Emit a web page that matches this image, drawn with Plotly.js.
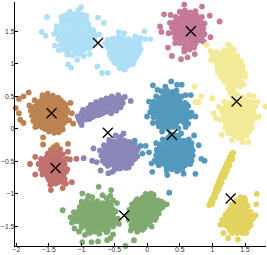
<!DOCTYPE html>
<html><head><meta charset="utf-8">
<script src="https://cdn.plot.ly/plotly-3.0.1.min.js"></script>
<style>html,body{margin:0;padding:0;background:#fff}</style></head>
<body><div id="c" style="width:267px;height:255px"></div>
<script>
const skyX=[-1.53,-1.61,-1.55,-1.31,-1.01,-1.18,-1.05,-0.93,-0.75,-0.66,-1.21,-1.07,-0.88,-1.41,-1.35,-0.73,-0.76,-0.69,-0.6,
-1.2,-1.12,-1.05,-0.98,
-1.25,-1.17,-1.09,-1.01,-0.93,
-1.3,-1.22,-1.14,-1.06,-0.98,-0.9,
-1.38,-1.3,-1.22,-1.14,-1.06,-0.98,-0.9,-0.83,
-1.42,-1.34,-1.26,-1.18,-1.1,-1.02,-0.94,-0.86,-0.79,
-1.36,-1.28,-1.2,-1.12,-1.04,-0.96,-0.88,-0.8,
-1.32,-1.24,-1.16,-1.08,-1.0,-0.92,-0.84,
-1.28,-1.2,-1.12,-1.04,-0.96,-0.88,
-1.22,-1.14,-1.05,-0.97,
-0.43,-0.35,-0.04,
-0.52,-0.44,-0.36,-0.28,-0.18,-0.1,-0.03,0.05,
-0.6,-0.52,-0.44,-0.36,-0.28,-0.2,-0.12,
-0.64,-0.56,-0.48,-0.4,-0.32,-0.24,-0.16,-0.1,
-0.6,-0.52,-0.44,-0.36,-0.28,-0.2,-0.13,
-0.57,-0.49,-0.41,-0.33,-0.25,-0.17,
-0.54,-0.46,-0.38,-0.3,-0.22,
-0.5,-0.42,-0.34,
-1.16,-1.08,-1.0,
-1.26,-1.18,-1.1,-1.02,-0.94,
-1.3,-1.22,-1.14,-1.06,-0.98,-0.9,
-1.38,-1.3,-1.22,-1.14,-1.06,-0.98,-0.9,-0.82,
-1.38,-1.3,-1.22,-1.14,-1.06,-0.98,-0.9,-0.82,
-1.32,-1.24,-1.16,-1.08,-1.0,-0.92,-0.84,
-1.28,-1.2,-1.12,-1.04,-0.96,-0.88,
-1.18,-1.1,-1.02,
-0.56,-0.48,-0.4,-0.32,-0.24,-0.16,
-0.6,-0.52,-0.44,-0.36,-0.28,-0.2,-0.12,
-0.6,-0.52,-0.44,-0.36,-0.28,-0.2,-0.12,
-0.56,-0.48,-0.4,-0.32,-0.24,-0.16,
-0.52,-0.44,-0.36,-0.28,-0.2,
-0.46,-0.38,-0.3];
const skyY=[1.72,1.49,1.43,1.72,1.87,1.8,1.82,1.74,1.71,1.63,0.99,1.06,1.15,1.28,1.21,1.45,0.96,0.86,0.86,
1.78,1.76,1.79,1.75,
1.69,1.71,1.68,1.7,1.67,
1.61,1.63,1.6,1.62,1.64,1.61,
1.53,1.55,1.52,1.56,1.54,1.53,1.55,1.52,
1.46,1.45,1.47,1.44,1.46,1.48,1.45,1.47,1.44,
1.38,1.37,1.39,1.36,1.38,1.4,1.37,1.36,
1.3,1.29,1.31,1.28,1.32,1.3,1.29,
1.22,1.21,1.23,1.2,1.22,1.24,
1.14,1.13,1.15,1.12,
1.49,1.47,1.5,
1.39,1.41,1.4,1.38,1.42,1.4,1.38,1.38,1.37,
1.31,1.33,1.3,1.32,1.31,1.34,1.31,
1.24,1.22,1.25,1.23,1.26,1.24,1.22,1.25,
1.16,1.14,1.17,1.15,1.18,1.16,1.14,
1.08,1.06,1.09,1.07,1.1,1.08,
1.0,0.98,1.01,0.99,1.02,
0.93,0.91,0.94,
1.74,1.74,1.74,
1.66,1.66,1.66,1.66,1.66,
1.58,1.58,1.58,1.58,1.58,1.58,
1.5,1.5,1.5,1.5,1.5,1.5,1.5,1.5,
1.42,1.42,1.42,1.42,1.42,1.42,1.42,1.42,
1.34,1.34,1.34,1.34,1.34,1.34,1.34,
1.26,1.26,1.26,1.26,1.26,1.26,
1.18,1.18,1.18,
1.36,1.36,1.36,1.36,1.36,1.36,
1.28,1.28,1.28,1.28,1.28,1.28,1.28,
1.2,1.2,1.2,1.2,1.2,1.2,1.2,
1.12,1.12,1.12,1.12,1.12,1.12,
1.04,1.04,1.04,1.04,1.04,
0.96,0.96,0.96];
const pinkX=[0.65,0.57,0.84,0.26,0.36,0.96,1.11,0.2,0.22,0.32,0.38,0.52,0.62,0.73,0.57,0.87,0.97,0.43,0.35,0.33,
0.5,0.58,0.66,0.74,
0.44,0.52,0.6,0.68,0.76,0.84,
0.42,0.5,0.58,0.66,0.74,0.82,0.88,
0.38,0.46,0.54,0.62,0.7,0.78,0.86,
0.4,0.48,0.56,0.64,0.72,0.8,0.88,
0.43,0.51,0.59,0.67,0.75,0.83,
0.5,0.58,0.66,0.74,
0.57,0.65,0.72,
0.54,0.62,0.7,
0.48,0.56,0.64,0.72,0.8,
0.44,0.52,0.6,0.68,0.76,0.84,
0.42,0.5,0.58,0.66,0.74,0.82,
0.46,0.54,0.62,0.7,0.78,0.86,
0.5,0.58,0.66,0.74,0.8,
0.58,0.66];
const pinkY=[1.96,1.91,1.88,1.76,1.75,1.74,1.65,1.575,1.49,1.25,1.12,1.07,1.1,1.15,1.19,1.34,1.41,1.32,1.63,1.47,
1.8,1.82,1.79,1.81,
1.72,1.7,1.73,1.71,1.74,1.72,
1.64,1.62,1.65,1.63,1.66,1.64,1.62,
1.56,1.54,1.57,1.55,1.58,1.56,1.54,
1.48,1.46,1.49,1.47,1.5,1.48,1.46,
1.4,1.38,1.41,1.39,1.42,1.4,
1.32,1.3,1.33,1.31,
1.24,1.22,1.25,
1.76,1.76,1.76,
1.68,1.68,1.68,1.68,1.68,
1.6,1.6,1.6,1.6,1.6,1.6,
1.52,1.52,1.52,1.52,1.52,1.52,
1.44,1.44,1.44,1.44,1.44,1.44,
1.36,1.36,1.36,1.36,1.36,
1.28,1.28];
const paleX=[0.73,0.83,0.79,0.74,1.0,1.81,1.0,1.02,1.06,1.12,1.14,1.28,1.3,1.46,1.55,1.71,1.56,1.63,1.69,
0.91,1.24,1.27,
0.97,1.06,1.18,1.26,1.33,
1.0,1.08,1.16,1.24,1.32,1.38,
0.98,1.06,1.14,1.22,1.3,1.38,1.44,
1.07,1.15,1.23,1.31,1.39,1.46,
1.08,1.16,1.24,1.32,1.4,1.47,1.5,
1.13,1.21,1.29,1.37,1.45,1.5,
1.2,1.28,1.36,1.45,
1.24,1.32,1.42,1.48,
1.27,1.35,
1.3,1.38,1.46,
1.18,1.26,1.34,1.42,1.5,1.58,1.65,
1.1,1.18,1.26,1.34,1.42,1.5,1.58,1.66,
1.15,1.23,1.31,1.39,1.47,1.55,1.63,
1.17,1.25,1.33,1.41,1.49,1.57,1.65,
1.2,1.28,1.36,1.44,1.52,1.6,
1.2,1.28,1.36,1.44,1.52,1.6,
1.24,1.32,1.4,1.48,1.56,
1.4,1.47,
1.12,1.2,1.28,
1.04,1.12,1.2,1.28,1.36,
1.1,1.18,1.26,1.34,1.42,
1.11,1.19,1.27,1.35,1.43,
1.12,1.2,1.28,1.36,1.44,
1.17,1.25,1.33,1.41,
1.28,1.36,
1.22,1.3,1.38,1.46,1.54,1.62,
1.14,1.22,1.3,1.38,1.46,1.54,1.62,
1.19,1.27,1.35,1.43,1.51,1.59,
1.21,1.29,1.37,1.45,1.53,1.61,
1.24,1.32,1.4,1.48,1.56,
1.24,1.32,1.4,1.48,1.56,
1.36,1.44,1.52];
const paleY=[0.65,0.5,0.41,0.41,0.47,0.34,0.47,0.24,0.16,0.14,-0.09,-0.07,-0.17,-0.2,-0.2,0.19,0.52,0.5,0.42,
1.29,1.3,1.27,
1.2,1.18,1.21,1.19,1.22,
1.12,1.1,1.13,1.11,1.14,1.12,
1.06,1.04,1.02,1.05,1.03,1.06,1.04,
0.96,0.94,0.97,0.95,0.98,0.96,
0.88,0.86,0.89,0.87,0.9,0.88,0.86,
0.8,0.78,0.81,0.79,0.82,0.8,
0.72,0.7,0.73,0.71,
0.64,0.62,0.65,0.68,
0.56,0.54,
0.5,0.52,0.49,
0.42,0.4,0.43,0.41,0.44,0.42,0.4,
0.34,0.32,0.35,0.33,0.36,0.34,0.32,0.35,
0.26,0.24,0.27,0.25,0.28,0.26,0.24,
0.18,0.16,0.19,0.17,0.2,0.18,0.16,
0.1,0.08,0.11,0.09,0.12,0.1,
0.02,0.0,0.03,0.01,0.04,0.02,
-0.06,-0.08,-0.05,-0.07,-0.04,
-0.14,-0.12,
1.16,1.16,1.16,
1.08,1.08,1.08,1.08,1.08,
1.0,1.0,1.0,1.0,1.0,
0.92,0.92,0.92,0.92,0.92,
0.84,0.84,0.84,0.84,0.84,
0.76,0.76,0.76,0.76,
0.68,0.68,
0.38,0.38,0.38,0.38,0.38,0.38,
0.3,0.3,0.3,0.3,0.3,0.3,0.3,
0.22,0.22,0.22,0.22,0.22,0.22,
0.14,0.14,0.14,0.14,0.14,0.14,
0.06,0.06,0.06,0.06,0.06,
-0.02,-0.02,-0.02,-0.02,-0.02,
-0.1,-0.1,-0.1];
const brickX=[-1.79,-1.71,-1.08,-1.18,-1.15,-1.24,-1.29,-1.47,-1.71,-1.21,
-1.47,-1.4,-1.33,
-1.52,-1.44,-1.36,-1.29,
-1.62,-1.54,-1.46,-1.38,-1.3,-1.23,
-1.66,-1.58,-1.5,-1.42,-1.34,-1.26,
-1.62,-1.54,-1.46,-1.38,-1.3,-1.22,
-1.6,-1.52,-1.44,-1.36,-1.28,
-1.5,-1.42,-1.34,-1.26,
-1.48,-1.4,
-1.5,-1.42,-1.34,
-1.6,-1.52,-1.44,-1.36,-1.28,
-1.6,-1.52,-1.44,-1.36,-1.28,
-1.56,-1.48,-1.4,-1.32,-1.24,
-1.52,-1.44,-1.36,-1.28,
-1.44,-1.36,-1.28];
const brickY=[-0.54,-0.43,-0.46,-0.47,-0.82,-0.84,-0.91,-0.94,-0.7,-0.35,
-0.32,-0.34,-0.31,
-0.38,-0.4,-0.37,-0.39,
-0.46,-0.44,-0.47,-0.45,-0.48,-0.46,
-0.54,-0.52,-0.55,-0.53,-0.56,-0.54,
-0.62,-0.6,-0.63,-0.61,-0.64,-0.62,
-0.7,-0.68,-0.71,-0.69,-0.72,
-0.78,-0.76,-0.79,-0.77,
-0.86,-0.84,
-0.42,-0.42,-0.42,
-0.5,-0.5,-0.5,-0.5,-0.5,
-0.58,-0.58,-0.58,-0.58,-0.58,
-0.66,-0.66,-0.66,-0.66,-0.66,
-0.74,-0.74,-0.74,-0.74,
-0.82,-0.82,-0.82];
const ochreX=[-1.96,-1.81,-1.89,-2.01,-1.96,-1.94,-1.89,-1.17,-1.15,-1.13,-1.59,-1.59,-1.71,-1.43,-1.35,-1.29,-1.21,-1.43,-1.38,
-1.6,-1.52,-1.44,
-1.72,-1.64,-1.56,-1.48,-1.4,-1.32,
-1.8,-1.72,-1.64,-1.56,-1.48,-1.4,-1.32,-1.24,
-1.78,-1.7,-1.62,-1.54,-1.46,-1.38,-1.3,-1.22,
-1.76,-1.68,-1.6,-1.52,-1.44,-1.36,-1.28,
-1.74,-1.66,-1.58,-1.5,-1.42,-1.34,-1.26,-1.19,
-1.68,-1.6,-1.52,-1.44,-1.36,-1.3,
-1.5,-1.42,
-1.6,-1.52,-1.44,-1.36,
-1.68,-1.6,-1.52,-1.44,-1.36,-1.28,
-1.74,-1.66,-1.58,-1.5,-1.42,-1.34,-1.26,
-1.72,-1.64,-1.56,-1.48,-1.4,-1.32,-1.24,
-1.72,-1.64,-1.56,-1.48,-1.4,-1.32,-1.24,
-1.7,-1.62,-1.54,-1.46,-1.38,-1.3,
-1.56,-1.48,-1.4,-1.34];
const ochreY=[0.46,0.56,0.5,0.32,0.24,0.14,0.09,0.4,0.24,0.08,-0.13,-0.24,0.03,0.0,-0.05,-0.01,-0.23,-0.28,-0.25,
0.52,0.54,0.51,
0.44,0.42,0.45,0.43,0.46,0.44,
0.36,0.34,0.37,0.35,0.38,0.36,0.34,0.37,
0.28,0.26,0.29,0.27,0.3,0.28,0.26,0.29,
0.2,0.18,0.21,0.19,0.22,0.2,0.18,
0.12,0.1,0.13,0.11,0.14,0.12,0.1,0.13,
0.04,0.02,0.05,0.03,0.06,0.04,
-0.04,-0.06,
0.48,0.48,0.48,0.48,
0.4,0.4,0.4,0.4,0.4,0.4,
0.32,0.32,0.32,0.32,0.32,0.32,0.32,
0.24,0.24,0.24,0.24,0.24,0.24,0.24,
0.16,0.16,0.16,0.16,0.16,0.16,0.16,
0.08,0.08,0.08,0.08,0.08,0.08,
0.0,0.0,0.0,0.0];
const violetX=[-1.02,-0.96,-0.88,-0.8,-0.72,-0.64,-0.56,-0.48,-0.41,
-1.06,-0.98,-0.9,-0.82,-0.74,-0.66,-0.58,-0.5,-0.42,-0.37,
-0.98,-0.9,-0.82,-0.74,-0.66,-0.58,-0.5,-0.44,
-0.34,-0.25,-1.0,
-0.82,-0.84,-0.77,-0.71,-0.59,-0.53,-0.97,
-0.48,-0.4,-0.36,
-0.58,-0.5,-0.42,-0.34,-0.27,
-0.66,-0.58,-0.5,-0.42,-0.34,-0.26,-0.19,
-0.72,-0.64,-0.56,-0.48,-0.4,-0.32,-0.24,-0.16,-0.14,
-0.7,-0.62,-0.54,-0.46,-0.38,-0.3,-0.22,-0.15,
-0.68,-0.6,-0.52,-0.44,-0.36,-0.28,-0.2,
-0.6,-0.52,-0.44,-0.36,-0.28,
-0.5,-0.42,
-0.94,-0.86,-0.78,-0.7,-0.62,-0.54,-0.46,-0.94,-0.86,-0.78,-0.7,-0.62,-0.54,-0.46,-1.0,-0.92,-0.84,-0.76,-0.68,-0.6,-0.52,-0.44,
-0.54,-0.46,-0.38,-0.3,
-0.62,-0.54,-0.46,-0.38,-0.3,-0.22,
-0.68,-0.6,-0.52,-0.44,-0.36,-0.28,-0.2,
-0.66,-0.58,-0.5,-0.42,-0.34,-0.26,-0.18,
-0.64,-0.56,-0.48,-0.4,-0.32,-0.24,
-0.48,-0.4,-0.32,
-1.04,-1.0,-0.93,-0.85,-0.77,-0.69,-0.61,-0.53,-0.45,-0.39,-0.4,-0.47,-0.55,
-0.86,-0.78,-0.7,-0.62,-0.54];
const violetY=[0.1,0.14,0.15,0.2,0.22,0.26,0.27,0.32,0.33,
0.19,0.22,0.25,0.29,0.32,0.34,0.38,0.41,0.44,0.4,
0.29,0.32,0.36,0.39,0.43,0.46,0.47,0.52,
0.49,0.43,0.06,
-0.3,-0.49,-0.51,-0.64,-0.68,-0.66,-0.45,
-0.1,-0.12,-0.07,
-0.17,-0.19,-0.16,-0.18,-0.2,
-0.25,-0.23,-0.26,-0.24,-0.27,-0.25,-0.23,
-0.33,-0.31,-0.34,-0.32,-0.35,-0.33,-0.31,-0.34,-0.3,
-0.41,-0.39,-0.42,-0.4,-0.43,-0.41,-0.39,-0.42,
-0.49,-0.47,-0.5,-0.48,-0.51,-0.49,-0.47,
-0.57,-0.55,-0.58,-0.56,-0.59,
-0.63,-0.61,
0.18,0.21,0.25,0.28,0.3,0.33,0.37,0.26,0.29,0.32,0.36,0.38,0.42,0.44,0.14,0.15,0.18,0.21,0.24,0.27,0.3,0.38,
-0.21,-0.21,-0.21,-0.21,
-0.29,-0.29,-0.29,-0.29,-0.29,-0.29,
-0.37,-0.37,-0.37,-0.37,-0.37,-0.37,-0.37,
-0.45,-0.45,-0.45,-0.45,-0.45,-0.45,-0.45,
-0.53,-0.53,-0.53,-0.53,-0.53,-0.53,
-0.6,-0.6,-0.6,
0.14,0.24,0.2,0.26,0.3,0.33,0.38,0.42,0.47,0.47,0.36,0.28,0.24,
0.37,0.41,0.44,0.47,0.5];
const steelX=[0.0,0.09,0.37,0.46,0.53,0.16,0.03,0.09,0.18,0.59,0.67,0.74,0.59,0.28,
0.22,0.3,0.38,0.45,
0.14,0.22,0.3,0.38,0.46,0.53,
0.1,0.18,0.26,0.34,0.42,0.5,0.58,
0.07,0.15,0.23,0.31,0.39,0.47,0.55,0.63,
0.05,0.13,0.21,0.29,0.37,0.45,0.53,0.61,0.68,
0.1,0.18,0.26,0.34,0.42,0.5,0.58,0.66,
0.16,0.24,0.32,0.4,0.48,0.56,0.63,
0.24,0.32,0.4,0.48,
0.14,0.07,0.08,0.31,0.56,0.74,0.79,0.72,-0.19,-0.1,-0.02,-0.07,0.03,0.23,0.83,0.88,0.34,
0.36,0.44,0.52,
0.24,0.32,0.4,0.48,0.56,0.64,
0.2,0.28,0.36,0.44,0.52,0.6,0.68,
0.15,0.23,0.31,0.39,0.47,0.55,0.63,0.7,
0.14,0.22,0.3,0.38,0.46,0.54,0.62,0.7,
0.12,0.2,0.28,0.36,0.44,0.52,0.6,0.68,
0.18,0.26,0.34,0.42,0.5,0.58,0.66,
0.3,0.38,0.46,0.54,
0.26,0.34,0.42,
0.18,0.26,0.34,0.42,0.5,
0.12,0.2,0.28,0.36,0.44,0.52,0.6,
0.1,0.18,0.26,0.34,0.42,0.5,0.58,
0.1,0.18,0.26,0.34,0.42,0.5,0.58,0.64,
0.2,0.28,0.36,0.44,0.52,0.6,
0.28,0.36,0.44,
0.4,0.48,
0.28,0.36,0.44,0.52,0.6,
0.2,0.28,0.36,0.44,0.52,0.6,0.68,
0.18,0.26,0.34,0.42,0.5,0.58,0.66,
0.18,0.26,0.34,0.42,0.5,0.58,0.66,
0.16,0.24,0.32,0.4,0.48,0.56,0.64,
0.3,0.38,0.46,0.54];
const steelY=[0.19,0.67,0.73,0.68,0.68,0.6,0.42,0.09,0.04,0.52,0.52,0.19,0.03,0.65,
0.58,0.6,0.57,0.59,
0.5,0.48,0.51,0.49,0.52,0.5,
0.42,0.4,0.43,0.41,0.44,0.42,0.4,
0.34,0.32,0.35,0.33,0.36,0.34,0.32,0.35,
0.26,0.24,0.27,0.25,0.28,0.26,0.24,0.27,0.25,
0.18,0.16,0.19,0.17,0.2,0.18,0.16,0.19,
0.1,0.08,0.11,0.09,0.12,0.1,0.08,
0.02,0.0,0.03,0.01,
-0.22,-0.53,-0.66,-0.71,-0.69,-0.69,-0.25,-0.1,-0.18,-0.26,-0.26,-0.38,-0.36,-0.04,-0.46,-0.49,-0.98,
-0.08,-0.1,-0.07,
-0.16,-0.14,-0.17,-0.15,-0.18,-0.16,
-0.24,-0.22,-0.25,-0.23,-0.26,-0.24,-0.22,
-0.32,-0.3,-0.33,-0.31,-0.34,-0.32,-0.3,-0.33,
-0.4,-0.38,-0.41,-0.39,-0.42,-0.4,-0.38,-0.41,
-0.48,-0.46,-0.49,-0.47,-0.5,-0.48,-0.46,-0.49,
-0.56,-0.54,-0.57,-0.55,-0.58,-0.56,-0.54,
-0.64,-0.62,-0.65,-0.63,
0.54,0.54,0.54,
0.46,0.46,0.46,0.46,0.46,
0.38,0.38,0.38,0.38,0.38,0.38,0.38,
0.3,0.3,0.3,0.3,0.3,0.3,0.3,
0.22,0.22,0.22,0.22,0.22,0.22,0.22,0.22,
0.14,0.14,0.14,0.14,0.14,0.14,
0.06,0.06,0.06,
-0.12,-0.12,
-0.2,-0.2,-0.2,-0.2,-0.2,
-0.28,-0.28,-0.28,-0.28,-0.28,-0.28,-0.28,
-0.36,-0.36,-0.36,-0.36,-0.36,-0.36,-0.36,
-0.44,-0.44,-0.44,-0.44,-0.44,-0.44,-0.44,
-0.52,-0.52,-0.52,-0.52,-0.52,-0.52,-0.52,
-0.6,-0.6,-0.6,-0.6];
const greenX=[-0.74,-0.55,-0.99,-0.9,-1.29,-0.46,-0.99,-0.85,-0.74,-0.75,-0.61,-0.56,-0.33,-0.2,-1.11,-1.04,-0.95,
-0.84,-0.68,-0.62,-0.56,
-1.0,-0.92,-0.84,-0.76,-0.68,-0.6,-0.52,
-1.03,-0.95,-0.87,-0.79,-0.71,-0.63,-0.55,
-1.12,-1.04,-0.96,-0.88,-0.8,-0.72,-0.64,-0.56,-0.48,
-1.17,-1.09,-1.01,-0.93,-0.85,-0.77,-0.69,-0.61,-0.53,-0.45,
-1.15,-1.07,-0.99,-0.91,-0.83,-0.75,-0.67,-0.59,-0.51,-0.43,
-1.0,-0.92,-0.84,-0.76,-0.68,-0.6,-0.52,
-0.88,-0.8,-0.73,-0.62,-0.52,
-0.02,0.06,0.1,
-0.15,-0.07,0.01,0.09,0.17,
-0.23,-0.15,-0.07,0.01,0.09,0.17,0.25,0.3,
-0.27,-0.19,-0.11,-0.03,0.05,0.13,0.21,
-0.3,-0.22,-0.14,-0.06,0.02,0.1,0.18,
-0.28,-0.2,-0.12,-0.04,0.04,0.12,
-0.24,-0.16,-0.08,0.0,0.07,
-0.25,-0.15,-0.07,
-0.9,-0.82,-0.74,-0.66,-0.58,
-1.0,-0.92,-0.84,-0.76,-0.68,-0.6,-0.52,
-1.08,-1.0,-0.92,-0.84,-0.76,-0.68,-0.6,-0.52,
-1.12,-1.04,-0.96,-0.88,-0.8,-0.72,-0.64,-0.56,-0.48,
-1.0,-0.92,-0.84,-0.76,-0.68,-0.6,-0.52,
-0.9,-0.82,-0.72,-0.6,
-0.04,0.04,0.1,
-0.18,-0.1,-0.02,0.06,0.14,0.22,
-0.22,-0.14,-0.06,0.02,0.1,0.18,0.24,
-0.24,-0.16,-0.08,0.0,0.08,0.16,
-0.24,-0.16,-0.08,0.0,0.08,0.14,
-0.2,-0.12,-0.04,0.04,
-0.2,-0.12,-0.04];
const greenY=[-0.89,-0.94,-0.99,-1.03,-1.25,-1.14,-1.74,-1.74,-1.81,-1.73,-1.71,-1.68,-1.8,-1.71,-1.53,-1.58,-1.63,
-1.05,-1.02,-1.06,-1.03,
-1.12,-1.1,-1.13,-1.11,-1.14,-1.12,-1.1,
-1.2,-1.18,-1.21,-1.19,-1.22,-1.2,-1.18,
-1.28,-1.26,-1.29,-1.27,-1.3,-1.28,-1.26,-1.29,-1.27,
-1.36,-1.34,-1.37,-1.35,-1.38,-1.36,-1.34,-1.37,-1.35,-1.38,
-1.44,-1.42,-1.45,-1.43,-1.46,-1.44,-1.42,-1.45,-1.43,-1.46,
-1.52,-1.5,-1.53,-1.51,-1.54,-1.52,-1.5,
-1.6,-1.58,-1.61,-1.59,-1.62,
-1.0,-0.99,-1.01,
-1.08,-1.06,-1.09,-1.07,-1.1,
-1.16,-1.14,-1.17,-1.15,-1.18,-1.16,-1.14,-1.16,
-1.24,-1.22,-1.25,-1.23,-1.26,-1.24,-1.22,
-1.32,-1.3,-1.33,-1.31,-1.34,-1.32,-1.3,
-1.4,-1.38,-1.41,-1.39,-1.42,-1.4,
-1.48,-1.46,-1.49,-1.47,-1.5,
-1.56,-1.58,-1.55,
-1.16,-1.16,-1.16,-1.16,-1.16,
-1.24,-1.24,-1.24,-1.24,-1.24,-1.24,-1.24,
-1.32,-1.32,-1.32,-1.32,-1.32,-1.32,-1.32,-1.32,
-1.4,-1.4,-1.4,-1.4,-1.4,-1.4,-1.4,-1.4,-1.4,
-1.48,-1.48,-1.48,-1.48,-1.48,-1.48,-1.48,
-1.56,-1.56,-1.56,-1.56,
-1.04,-1.04,-1.04,
-1.12,-1.12,-1.12,-1.12,-1.12,-1.12,
-1.2,-1.2,-1.2,-1.2,-1.2,-1.2,-1.2,
-1.28,-1.28,-1.28,-1.28,-1.28,-1.28,
-1.36,-1.36,-1.36,-1.36,-1.36,-1.36,
-1.44,-1.44,-1.44,-1.44,
-1.52,-1.52,-1.52];
const goldX=[0.95,0.99,1.0,1.03,1.05,1.07,1.09,1.11,1.13,1.15,1.18,1.2,1.22,1.25,1.27,1.3,1.32,1.04,1.1,1.14,1.18,1.22,1.26,1.3,0.98,1.05,
1.005,1.015,1.07,1.075,1.125,1.135,1.19,1.195,1.245,1.25,1.3,1.3,
1.68,1.67,1.66,1.43,1.49,1.12,1.17,1.24,1.39,1.52,
1.37,1.44,1.5,
1.3,1.38,1.46,1.54,
1.27,1.35,1.43,1.51,1.58,
1.2,1.28,1.36,1.44,1.52,1.6,
1.15,1.23,1.31,1.39,1.47,1.55,1.62,
1.2,1.28,1.36,1.44,1.52,1.58,
1.27,1.35,1.43,1.5,
1.34,1.42,1.5,
1.32,1.4,1.48,
1.24,1.32,1.4,1.48,1.56,
1.2,1.28,1.36,1.44,1.52,1.6,
1.2,1.28,1.36,1.44,1.52,1.58,
1.25,1.33,1.41,1.49,1.55,
1.3,1.38,1.46];
const goldY=[-1.17,-1.16,-1.08,-1.0,-0.94,-0.88,-0.83,-0.78,-0.73,-0.68,-0.63,-0.58,-0.53,-0.48,-0.43,-0.4,-0.37,-1.05,-0.92,-0.82,-0.74,-0.65,-0.56,-0.47,-1.1,-0.94,
-1.12,-1.04,-0.97,-0.9,-0.85,-0.76,-0.7,-0.62,-0.58,-0.5,-0.45,-0.38,
-1.0,-1.16,-1.33,-1.05,-1.06,-1.47,-1.6,-1.68,-1.7,-1.6,
-1.1,-1.12,-1.09,
-1.17,-1.19,-1.16,-1.18,
-1.24,-1.26,-1.23,-1.25,-1.27,
-1.32,-1.3,-1.33,-1.31,-1.34,-1.32,
-1.4,-1.38,-1.41,-1.39,-1.42,-1.4,-1.38,
-1.48,-1.46,-1.49,-1.47,-1.5,-1.48,
-1.56,-1.54,-1.57,-1.55,
-1.14,-1.14,-1.14,
-1.21,-1.21,-1.21,
-1.28,-1.28,-1.28,-1.28,-1.28,
-1.36,-1.36,-1.36,-1.36,-1.36,-1.36,
-1.44,-1.44,-1.44,-1.44,-1.44,-1.44,
-1.52,-1.52,-1.52,-1.52,-1.52,
-1.6,-1.6,-1.6];
const centerX=[-0.75,0.67,1.37,-1.46,-0.6,0.38,-1.4,-0.35,1.28];
const centerY=[1.32,1.5,0.42,0.24,-0.06,-0.09,-0.6,-1.33,-1.07];
const tickX=[-2,-1.5,-1,-0.5,0,0.5,1,1.5];
const tickY=[-1.5,-1,-0.5,0,0.5,1,1.5];

function dots(x,y,c){return {x:x,y:y,type:'scatter',mode:'markers',cliponaxis:false,hoverinfo:'skip',
  marker:{size:5.8,color:c,line:{width:0}}};}
const traces=[
 dots(skyX,skyY,'#aedff6'),dots(pinkX,pinkY,'#c57a98'),dots(paleX,paleY,'#f3ea97'),
 dots(brickX,brickY,'#c0716b'),dots(ochreX,ochreY,'#bd8251'),dots(violetX,violetY,'#8a87b8'),
 dots(steelX,steelY,'#5399bd'),dots(greenX,greenY,'#80aa6f'),dots(goldX,goldY,'#e2d45f'),
 {x:centerX,y:centerY,type:'scatter',mode:'markers',cliponaxis:false,hoverinfo:'skip',
  marker:{symbol:'x-thin',size:10,color:'#000',line:{width:1.3,color:'#000'}}}
];
const axis={showgrid:false,zeroline:false,showline:true,linecolor:'#000',linewidth:1.3,ticks:'inside',ticklen:3,
  tickwidth:1,tickcolor:'#000',tickfont:{family:'Liberation Sans, Arial, sans-serif',size:6.8,color:'#333'},tickmode:'array'};
Plotly.newPlot('c',traces,{
 width:267,height:255,showlegend:false,paper_bgcolor:'#fff',plot_bgcolor:'#fff',
 margin:{l:15,r:1,t:2,b:9},
 xaxis:Object.assign({},axis,{range:[-2.02,1.82],tickvals:tickX,ticktext:['−2','−1.5','−1','−0.5','0','0.5','1','1.5'],ticklabelstandoff:-3}),
 yaxis:Object.assign({},axis,{range:[-1.8,1.95],tickvals:tickY,ticktext:['−1.5','−1','−0.5','0','0.5','1','1.5'],ticklabelstandoff:-2})
},{displayModeBar:false,staticPlot:true});
</script></body></html>
